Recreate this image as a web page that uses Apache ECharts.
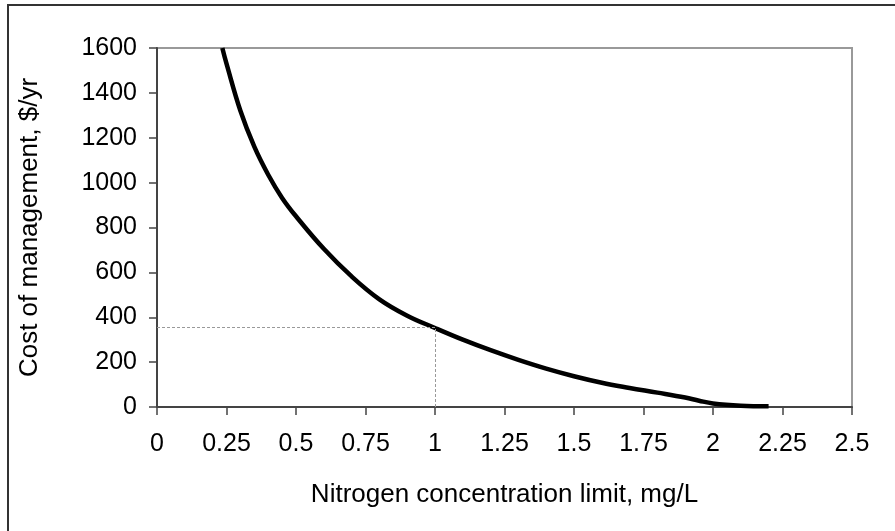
<!DOCTYPE html>
<html>
<head>
<meta charset="utf-8">
<script src="https://cdn.jsdelivr.net/npm/echarts@6/dist/echarts.min.js"></script>
<style>html,body{margin:0;padding:0;background:#fff}#c{width:895px;height:531px}</style>
</head>
<body>
<div id="c"></div>
<script>
var nitrogen = [0.235,0.25,0.3,0.35,0.4,0.45,0.5,0.6,0.7,0.8,0.9,1.0,1.1,1.2,1.3,1.4,1.5,1.6,1.7,1.8,1.9,1.95,2.0,2.1,2.2];
var cost =     [1600,1530,1320,1160,1035,932,850,705,582,480,407,352,300,253,210,171,137,108,85,64,42,28,16,6,3];
var xTicks = [0,0.25,0.5,0.75,1,1.25,1.5,1.75,2,2.25,2.5];
var yTicks = [0,200,400,600,800,1000,1200,1400,1600];
var refX = 1, refY = 355;
var xName = 'Nitrogen concentration limit, mg/L';
var yName = 'Cost of management, $/yr';

var chart = echarts.init(document.getElementById('c'));
var font = 'Liberation Sans, Arial, sans-serif';
chart.setOption({
  animation: false,
  backgroundColor: '#fff',
  graphic: [{type:'rect', shape:{x:8,y:5,width:1000,height:1000}, style:{fill:'none', stroke:'#333', lineWidth:2}, z:100}],
  grid: {left:157, right:43, top:48, bottom:124, show:true, borderColor:'#999', borderWidth:2},
  xAxis: {
    type:'value', min:0, max:2.5, interval:0.25,
    name:xName, nameLocation:'middle', nameGap:75,
    nameTextStyle:{fontFamily:font, fontSize:26, color:'#000'},
    axisLine:{show:true, lineStyle:{color:'#444', width:2}},
    axisTick:{show:true, length:8, lineStyle:{color:'#444', width:1.5}},
    axisLabel:{fontFamily:font, fontSize:25, color:'#000', margin:25,
      formatter:function(v){return xTicks.indexOf(v)>=0 ? String(v) : '';}},
    splitLine:{show:false}
  },
  yAxis: {
    type:'value', min:0, max:1600, interval:200,
    name:yName, nameLocation:'middle', nameGap:114,
    nameTextStyle:{fontFamily:font, fontSize:26, color:'#000'},
    axisLine:{show:true, lineStyle:{color:'#444', width:2}},
    axisTick:{show:true, length:8, lineStyle:{color:'#444', width:1.5}},
    axisLabel:{fontFamily:font, fontSize:25, color:'#000', margin:20,
      formatter:function(v){return yTicks.indexOf(v)>=0 ? String(v) : '';}},
    splitLine:{show:false}
  },
  series: [{
    type:'line', smooth:0.4, symbol:'none',
    data: nitrogen.map(function(x,i){return [x,cost[i]];}),
    lineStyle:{color:'#000', width:4.5},
    markLine:{
      silent:true, symbol:'none', label:{show:false},
      lineStyle:{color:'#999', width:1, type:[3,2]},
      data:[
        [{coord:[0,refY]},{coord:[refX,refY]}],
        [{coord:[refX,0]},{coord:[refX,refY]}]
      ]
    }
  }]
});
</script>
</body>
</html>
